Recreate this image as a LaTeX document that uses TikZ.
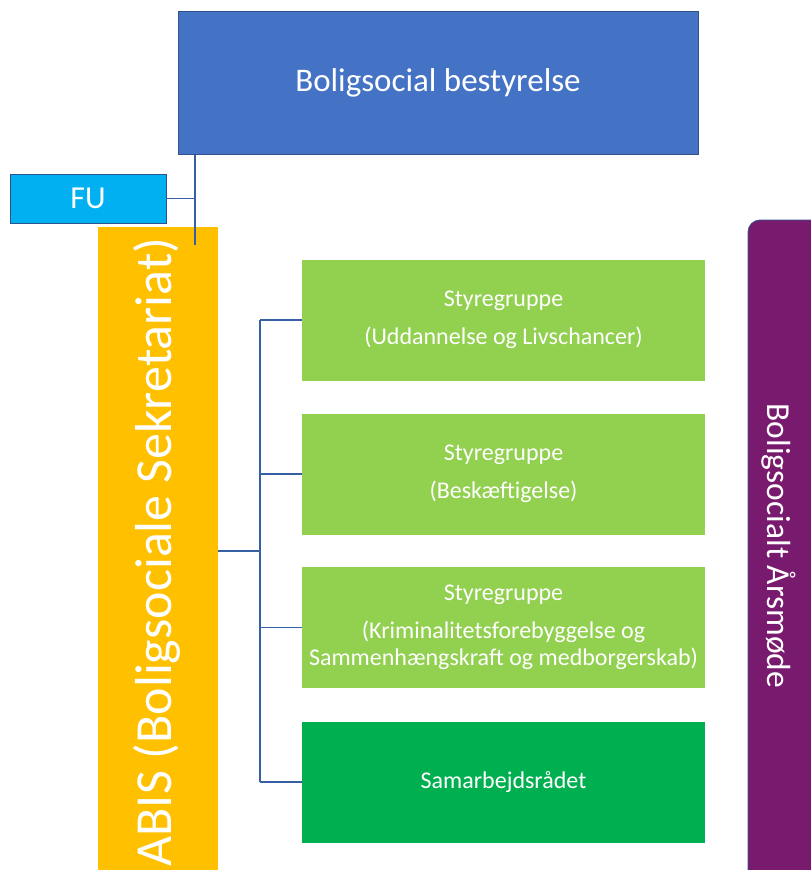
\documentclass[tikz,border=0pt]{standalone}
\usepackage{fontspec}
\setmainfont{Carlito}
\usetikzlibrary{positioning}
\definecolor{bestblue}{HTML}{4472C4}
\definecolor{fublue}{HTML}{00B0F0}
\definecolor{edgeblue}{HTML}{2F528F}
\definecolor{abisorange}{HTML}{FFC000}
\definecolor{sglight}{HTML}{92D050}
\definecolor{sgdark}{HTML}{00B050}
\definecolor{aarpurple}{HTML}{781A6D}
\tikzset{
    boxb/.style = {rectangle, draw=edgeblue, line width=0.8pt, text=white, align=center, inner sep=0pt},
    boxg/.style = {rectangle, fill=sglight, text=white, align=center, inner sep=0pt,
                   minimum width=403pt, minimum height=121pt, font=\fontsize{24}{27}\selectfont},
    edgec/.style = {line width=1.4pt, draw=edgeblue!60!bestblue},
}

\begin{document}
\begin{tikzpicture}[x=1pt, y=-1pt]
  \useasboundingbox (0,0) rectangle (811,870);
  \clip (0,0) rectangle (811,870);

  \node[boxb, fill=bestblue, minimum width=520pt, minimum height=143pt,
        font=\fontsize{33}{38}\selectfont] (bestyrelse) at (438,83) {Boligsocial bestyrelse};
  \node[boxb, fill=fublue, minimum width=156pt, minimum height=49pt,
        font=\fontsize{32}{36}\selectfont] (fu) at (88,198.5) {FU};

  \node[rectangle, fill=abisorange, minimum width=120pt, minimum height=680pt, inner sep=0pt] (abis) at (158,567) {};
  \node[text=white, rotate=90, font=\fontsize{52}{58}\selectfont] (abistext) at (157,552) {ABIS (Boligsociale Sekretariat)};

  \node[rectangle, rounded corners=12pt, fill=aarpurple, draw=edgeblue, line width=0.8pt,
        minimum width=90pt, minimum height=690pt] (aarsmode) at (793,565) {};
  \node[text=white, rotate=-90, font=\fontsize{33.5}{38}\selectfont] (aartext) at (779,546) {Boligsocialt Årsmøde};

  \node[boxg] (sg1) at (503.5,320) {Styregruppe\\[11pt](Uddannelse og Livschancer)};
  \node[boxg] (sg2) at (503.5,474) {Styregruppe\\[11pt](Beskæftigelse)};
  \node[boxg] (sg3) at (503.5,627.5) {Styregruppe\\[11pt](Kriminalitetsforebyggelse og\\Sammenhængskraft og medborgerskab)};
  \node[boxg, fill=sgdark] (samr) at (503.5,782) {Samarbejdsrådet};

  \coordinate (tap) at (195,245);
  \coordinate (fork) at (260,551);
  \draw[edgec] (bestyrelse.south -| tap) -- (tap);
  \draw[edgec] (fu.east) -- (fu.east -| tap);
  \draw[edgec] (abis.east |- fork) -- (fork);
  \draw[edgec] (sg1.west -| fork) -- (samr.west -| fork);
  \foreach \g in {sg1,sg2,sg3,samr}
    \draw[edgec] (\g.west -| fork) -- (\g.west);

\end{tikzpicture}
\end{document}
